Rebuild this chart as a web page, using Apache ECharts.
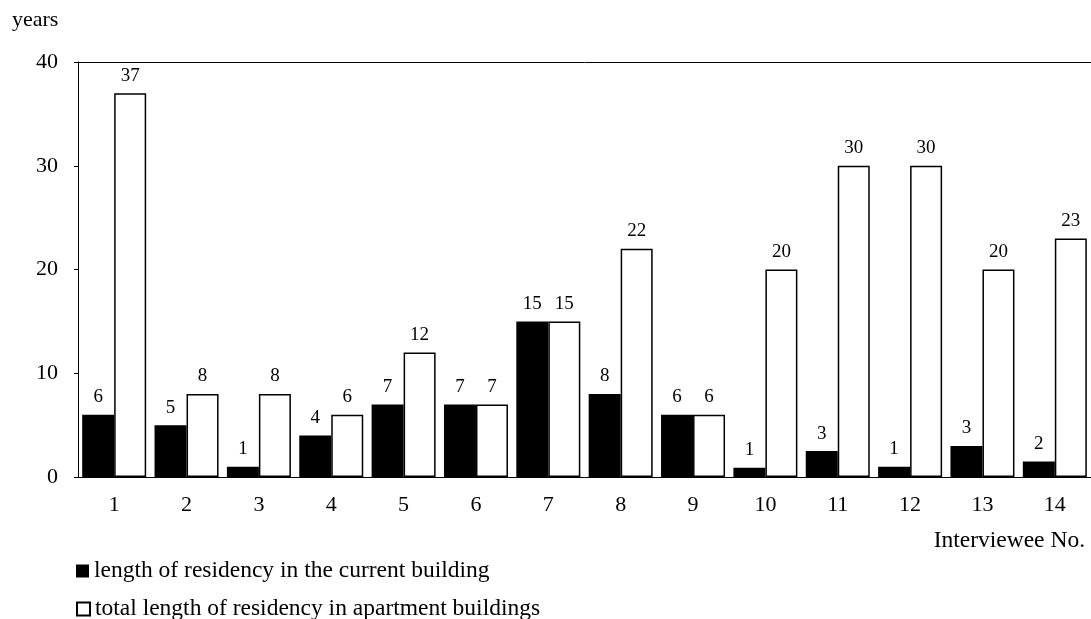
<!DOCTYPE html>
<html>
<head>
<meta charset="utf-8">
<script src="https://cdn.jsdelivr.net/npm/echarts@6/dist/echarts.min.js"></script>
<style>
  html, body { margin: 0; padding: 0; background: #fff; }
  #chart { width: 1091px; height: 619px; }
</style>
</head>
<body>
<div id="chart"></div>
<script>
const serif = '"Liberation Serif", "Times New Roman", serif';

// interviewee numbers
const categories = ["1", "2", "3", "4", "5", "6", "7", "8", "9", "10", "11", "12", "13", "14"];
// bar heights as drawn (years)
const currentBuilding = [6, 5, 1, 4, 7, 7, 15, 8, 6, 0.9, 2.5, 1, 3, 1.5];
// labels printed above the black bars
const currentLabels = [6, 5, 1, 4, 7, 7, 15, 8, 6, 1, 3, 1, 3, 2];
const totalApartments = [37, 8, 8, 6, 12, 7, 15, 22, 6, 20, 30, 30, 20, 23];
const yTicks = [0, 10, 20, 30, 40];
const seriesNames = [
  "length of residency in the current building",
  "total length of residency in apartment buildings",
];

const myChart = echarts.init(document.getElementById("chart"));

const labelStyle = {
  show: true,
  position: "top",
  distance: 8,
  color: "#000",
  fontFamily: serif,
  fontSize: 19,
};

// one legend per row, stacked
const legendRow = (name, top) => ({
  data: [name],
  left: 71,
  top: top,
  itemWidth: 13,
  itemHeight: 13,
  icon: "rect",
  textStyle: { fontFamily: serif, fontSize: 23.5, color: "#000" },
});

myChart.setOption({
  animation: false,
  textStyle: { fontFamily: serif, color: "#000" },
  grid: { left: 78, top: 62, width: 1016, height: 415 },
  legend: [legendRow(seriesNames[0], 554), legendRow(seriesNames[1], 592)],
  xAxis: [
    {
      type: "category",
      data: categories,
      axisLine: { lineStyle: { color: "#000", width: 1 } },
      axisTick: { alignWithLabel: true, length: 5, lineStyle: { color: "#000" } },
      axisLabel: { margin: 17, color: "#000", fontFamily: serif, fontSize: 22 },
    },
    {
      // top frame line
      type: "category",
      position: "top",
      data: categories,
      axisLine: { lineStyle: { color: "#000", width: 1 } },
      axisTick: { show: false },
      axisLabel: { show: false },
    },
  ],
  yAxis: {
    type: "value",
    min: yTicks[0],
    max: yTicks[yTicks.length - 1],
    interval: 10,
    axisLine: { show: true, lineStyle: { color: "#000", width: 1 } },
    axisTick: { show: true, length: 4, lineStyle: { color: "#000" } },
    splitLine: { show: false },
    axisLabel: { margin: 20, color: "#000", fontFamily: serif, fontSize: 22 },
  },
  graphic: [
    {
      type: "text",
      x: 12,
      y: 20,
      style: { text: "years", font: `22px ${serif}`, fill: "#000", verticalAlign: "middle" },
    },
    {
      type: "text",
      x: 1085,
      y: 541,
      style: { text: "Interviewee No.", font: `23.5px ${serif}`, fill: "#000", align: "right", verticalAlign: "middle" },
    },
  ],
  series: [
    {
      name: seriesNames[0],
      type: "bar",
      data: currentBuilding,
      barWidth: 32,
      barGap: "0%",
      itemStyle: { color: "#000" },
      label: {
        ...labelStyle,
        formatter: (p) => String(currentLabels[p.dataIndex]),
      },
    },
    {
      name: seriesNames[1],
      type: "bar",
      data: totalApartments,
      barWidth: 32,
      barGap: "0%",
      itemStyle: { color: "#fff", borderColor: "#000", borderWidth: 1.5 },
      label: labelStyle,
    },
  ],
});
</script>
</body>
</html>
